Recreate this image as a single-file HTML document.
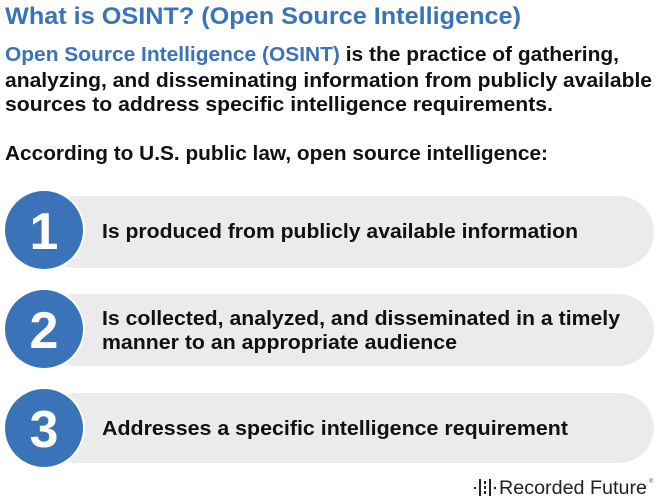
<!DOCTYPE html>
<html><head><meta charset="utf-8"><style>
html,body{margin:0;padding:0;background:#fff;}
svg{display:block;}
text{font-family:"Liberation Sans",Arial,sans-serif;}
</style></head><body>
<svg width="657" height="498" viewBox="0 0 657 498" xmlns="http://www.w3.org/2000/svg">
<text x="5" y="24" font-size="24" font-weight="bold" fill="#3b73b9" textLength="516" lengthAdjust="spacingAndGlyphs">What is OSINT? (Open Source Intelligence)</text>
<text x="5" y="61" font-size="20" font-weight="bold" fill="#111" textLength="614" lengthAdjust="spacingAndGlyphs"><tspan fill="#3b73b9">Open Source Intelligence (OSINT)</tspan> is the practice of gathering,</text>
<text x="5" y="87" font-size="20" font-weight="bold" fill="#111" textLength="647" lengthAdjust="spacingAndGlyphs">analyzing, and disseminating information from publicly available</text>
<text x="5" y="111" font-size="20" font-weight="bold" fill="#111" textLength="548" lengthAdjust="spacingAndGlyphs">sources to address specific intelligence requirements.</text>
<text x="5" y="160" font-size="20" font-weight="bold" fill="#111" textLength="543" lengthAdjust="spacingAndGlyphs">According to U.S. public law, open source intelligence:</text>

<rect x="40" y="196" width="614" height="72" rx="36" fill="#ebebeb"/>
<circle cx="44" cy="230" r="41" fill="#fff"/>
<circle cx="44" cy="230" r="39" fill="#3b73b9"/>
<text x="44" y="249" font-size="52" font-weight="bold" fill="#fff" text-anchor="middle">1</text>
<text x="102" y="238" font-size="20" font-weight="bold" fill="#111" textLength="476" lengthAdjust="spacingAndGlyphs">Is produced from publicly available information</text>

<rect x="40" y="294" width="614" height="72" rx="36" fill="#ebebeb"/>
<circle cx="44" cy="329" r="41" fill="#fff"/>
<circle cx="44" cy="329" r="39" fill="#3b73b9"/>
<text x="44" y="348" font-size="52" font-weight="bold" fill="#fff" text-anchor="middle">2</text>
<text x="102" y="325" font-size="20" font-weight="bold" fill="#111" textLength="518" lengthAdjust="spacingAndGlyphs">Is collected, analyzed, and disseminated in a timely</text>
<text x="102" y="349" font-size="20" font-weight="bold" fill="#111" textLength="355" lengthAdjust="spacingAndGlyphs">manner to an appropriate audience</text>

<rect x="40" y="393" width="614" height="70" rx="35" fill="#ebebeb"/>
<circle cx="44" cy="428" r="41" fill="#fff"/>
<circle cx="44" cy="428" r="39" fill="#3b73b9"/>
<text x="44" y="447" font-size="52" font-weight="bold" fill="#fff" text-anchor="middle">3</text>
<text x="102" y="435" font-size="20" font-weight="bold" fill="#111" textLength="466" lengthAdjust="spacingAndGlyphs">Addresses a specific intelligence requirement</text>

<g fill="#222">
<rect x="474" y="487" width="2" height="2"/>
<rect x="479" y="479" width="2" height="17"/>
<rect x="484" y="481" width="2" height="3"/><rect x="484" y="486" width="2" height="3"/><rect x="484" y="491" width="2" height="3"/>
<rect x="489" y="479" width="2" height="17"/>
<rect x="494" y="487" width="2" height="2"/>
</g>
<text x="499" y="494" font-size="19" fill="#222" textLength="148" lengthAdjust="spacingAndGlyphs">Recorded Future</text>
<text x="649" y="483" font-size="6" fill="#555">®</text>
</svg>
</body></html>
